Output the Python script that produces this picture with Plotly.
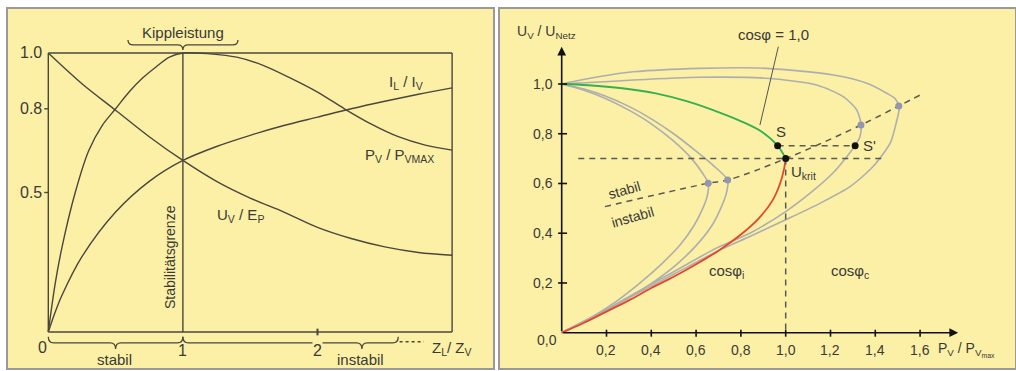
import plotly.graph_objects as go

# ---------------- left panel data (Z_L / Z_V on x) ----------------
zl_u = [0, 0.25, 0.5, 0.75, 1.0, 1.25, 1.5, 1.75, 2.0, 2.25, 2.5, 2.75, 3.0]
uv_ep = [1.0, 0.89, 0.795, 0.70, 0.615, 0.54, 0.48, 0.43, 0.375, 0.335, 0.305, 0.285, 0.275]

zl_i = [0, 0.05, 0.1, 0.25, 0.5, 0.75, 1.0, 1.25, 1.5, 1.75, 2.0, 2.25, 2.5, 2.75, 3.0]
il_iv = [0, 0.07, 0.13, 0.27, 0.43, 0.54, 0.615, 0.665, 0.705, 0.74, 0.77, 0.80, 0.827, 0.852, 0.875]

zl_p = [0, 0.05, 0.1, 0.2, 0.3, 0.4, 0.5, 0.6, 0.7, 0.8, 0.9, 1.0, 1.2, 1.4, 1.6, 1.8, 2.0, 2.2, 2.4, 2.6, 2.8, 3.0]
pv_pmax = [0, 0.17, 0.3, 0.5, 0.65, 0.74, 0.80, 0.86, 0.91, 0.95, 0.985, 1.0, 0.997, 0.985, 0.955, 0.91, 0.86, 0.80, 0.745, 0.70, 0.67, 0.652]

left_yticks = [1.0, 0.8, 0.5]
left_ytick_labels = ["1.0", "0.8", "0.5"]
left_xticks = [0, 1, 2]
left_xtick_labels = ["0", "1", "2"]

# ---------------- right panel data (P_V / P_Vmax on x) ----------------
ind1_p = [0, 0.1, 0.2, 0.3, 0.4, 0.5, 0.58, 0.63, 0.655, 0.65, 0.63, 0.59, 0.53, 0.45, 0.35, 0.25, 0.13, 0]
ind1_u = [1.0, 0.975, 0.94, 0.895, 0.84, 0.77, 0.70, 0.64, 0.60, 0.55, 0.50, 0.43, 0.355, 0.28, 0.20, 0.13, 0.06, 0]

ind2_p = [0, 0.1, 0.2, 0.3, 0.4, 0.5, 0.6, 0.68, 0.741, 0.735, 0.71, 0.67, 0.60, 0.52, 0.42, 0.30, 0.15, 0]
ind2_u = [1.0, 0.98, 0.95, 0.91, 0.86, 0.80, 0.73, 0.67, 0.614, 0.56, 0.50, 0.43, 0.35, 0.28, 0.21, 0.14, 0.065, 0]

cap1_p = [0, 0.17, 0.32, 0.617, 0.915, 1.138, 1.257, 1.317, 1.336, 1.332, 1.31, 1.272, 1.211, 1.109, 1.0, 0.84, 0.69, 0.5, 0.3, 0.15, 0]
cap1_u = [1.0, 1.008, 1.016, 1.027, 1.023, 0.996, 0.949, 0.896, 0.84, 0.79, 0.752, 0.707, 0.642, 0.561, 0.487, 0.40, 0.34, 0.245, 0.145, 0.07, 0]

cap2_p = [0, 0.17, 0.32, 0.617, 0.915, 1.213, 1.362, 1.451, 1.49, 1.507, 1.495, 1.467, 1.39, 1.287, 1.153, 1.0, 0.84, 0.706, 0.5, 0.3, 0.15, 0]
cap2_u = [1.0, 1.03, 1.049, 1.063, 1.063, 1.036, 1.003, 0.963, 0.94, 0.905, 0.85, 0.763, 0.668, 0.587, 0.52, 0.454, 0.387, 0.333, 0.235, 0.14, 0.068, 0]

green_p = [0, 0.12, 0.27, 0.42, 0.565, 0.714, 0.804, 0.893, 0.964, 1.0]
green_u = [1.0, 0.995, 0.983, 0.962, 0.929, 0.882, 0.849, 0.808, 0.752, 0.70]

red_p = [1.0, 0.993, 0.975, 0.94, 0.88, 0.8, 0.7, 0.6, 0.5, 0.4, 0.3, 0.2, 0.1, 0]
red_u = [0.70, 0.66, 0.60, 0.53, 0.46, 0.395, 0.33, 0.275, 0.225, 0.18, 0.13, 0.085, 0.04, 0]

stab_p = [0.193, 0.654, 0.741, 1.0, 1.336, 1.505, 1.607]
stab_u = [0.507, 0.601, 0.614, 0.70, 0.835, 0.912, 0.959]

nose_p = [0.654, 0.741, 1.336, 1.505]
nose_u = [0.601, 0.614, 0.835, 0.912]

pts_p = [0.964, 1.31, 1.0]
pts_u = [0.752, 0.752, 0.70]

ukrit = 0.70
right_xticks = [0.2, 0.4, 0.6, 0.8, 1.0, 1.2, 1.4, 1.6]
right_xtick_labels = ["0,2", "0,4", "0,6", "0,8", "1,0", "1,2", "1,4", "1,6"]
right_yticks = [0.2, 0.4, 0.6, 0.8, 1.0]
right_ytick_labels = ["0,2", "0,4", "0,6", "0,8", "1,0"]

# ---------------- styling ----------------
W, H = 1016, 371
BG = "#FBF0A6"
BORDER = "#9a9a9a"
INK = "#4a473c"
TXT = "#3a3a36"
GRAY = "#aeaeae"
FONT = "Liberation Sans, Arial, sans-serif"

fig = go.Figure()

# left curves
for xs, ys in [(zl_u, uv_ep), (zl_i, il_iv), (zl_p, pv_pmax)]:
    fig.add_trace(go.Scatter(x=xs, y=ys, mode="lines", line=dict(color=INK, width=1.4, shape="spline", smoothing=0.9),
                             xaxis="x", yaxis="y", hoverinfo="skip", showlegend=False))

# right curves
for xs, ys in [(ind1_p, ind1_u), (ind2_p, ind2_u), (cap1_p, cap1_u), (cap2_p, cap2_u)]:
    fig.add_trace(go.Scatter(x=xs, y=ys, mode="lines", line=dict(color=GRAY, width=1.6, shape="spline", smoothing=0.7),
                             xaxis="x2", yaxis="y2", hoverinfo="skip", showlegend=False))
fig.add_trace(go.Scatter(x=green_p, y=green_u, mode="lines", line=dict(color="#35b04e", width=1.8, shape="spline"),
                         xaxis="x2", yaxis="y2", hoverinfo="skip", showlegend=False))
fig.add_trace(go.Scatter(x=red_p, y=red_u, mode="lines", line=dict(color="#e5452e", width=1.8, shape="spline"),
                         xaxis="x2", yaxis="y2", hoverinfo="skip", showlegend=False))
DASH = "6px,5px"
fig.add_trace(go.Scatter(x=stab_p, y=stab_u, mode="lines", line=dict(color="#5a5a55", width=1.5, dash=DASH, shape="spline"),
                         xaxis="x2", yaxis="y2", hoverinfo="skip", showlegend=False))
fig.add_trace(go.Scatter(x=[0.074, 1.443], y=[ukrit, ukrit], mode="lines", line=dict(color="#5a5a55", width=1.5, dash=DASH),
                         xaxis="x2", yaxis="y2", hoverinfo="skip", showlegend=False))
fig.add_trace(go.Scatter(x=[1.0, 1.0], y=[ukrit, 0], mode="lines", line=dict(color="#5a5a55", width=1.5, dash=DASH),
                         xaxis="x2", yaxis="y2", hoverinfo="skip", showlegend=False))
fig.add_trace(go.Scatter(x=[pts_p[0], pts_p[1]], y=[pts_u[0], pts_u[1]], mode="lines", line=dict(color="#5a5a55", width=1.5, dash=DASH),
                         xaxis="x2", yaxis="y2", hoverinfo="skip", showlegend=False))
# leader line for cos phi = 1,0
fig.add_trace(go.Scatter(x=[0.967, 0.885], y=[1.15, 0.835], mode="lines", line=dict(color="#555550", width=1),
                         xaxis="x2", yaxis="y2", hoverinfo="skip", showlegend=False))
fig.add_trace(go.Scatter(x=nose_p, y=nose_u, mode="markers", marker=dict(color="#9297ad", size=7),
                         xaxis="x2", yaxis="y2", hoverinfo="skip", showlegend=False))
fig.add_trace(go.Scatter(x=pts_p, y=pts_u, mode="markers", marker=dict(color="#111111", size=7),
                         xaxis="x2", yaxis="y2", hoverinfo="skip", showlegend=False))

shapes = []
# panels
shapes.append(dict(type="rect", xref="paper", yref="paper", x0=7 / W, x1=494 / W, y0=1 - 369 / H, y1=1 - 8 / H,
                   fillcolor=BG, line=dict(color=BORDER, width=2), layer="below"))
shapes.append(dict(type="rect", xref="paper", yref="paper", x0=499 / W, x1=1016 / W, y0=1 - 369 / H, y1=1 - 8 / H,
                   fillcolor=BG, line=dict(color=BORDER, width=2), layer="below"))


def lline(x0, y0, x1, y1, xr="x", yr="y", color=INK, width=1.4, dash=None):
    d = dict(color=color, width=width)
    if dash:
        d["dash"] = dash
    shapes.append(dict(type="line", xref=xr, yref=yr, x0=x0, y0=y0, x1=x1, y1=y1, line=d))


# left frame
lline(0, 0, 3, 0)
lline(0, 1, 3, 1)
lline(0, 0, 0, 1)
lline(3, 0, 3, 1)
lline(1, 0, 1, 1)
for t in left_yticks[1:]:
    lline(-0.03, t, 0, t)
lline(2, -0.012, 2, 0.012, width=2)


def brace(x0, x1, xt, yb, h, hx, up_ends):
    s = 1 if up_ends else -1
    ye = yb + s * h
    yt = yb - s * h
    return (f"M {x0},{ye} Q {x0},{yb} {x0 + hx},{yb} L {xt - hx},{yb} Q {xt},{yb} {xt},{yt} "
            f"Q {xt},{yb} {xt + hx},{yb} L {x1 - hx},{yb} Q {x1},{yb} {x1},{ye}")


for path in [brace(0.592, 1.409, 1.0, 1.029, 0.018, 0.04, True),
             brace(0.0, 1.0, 0.5, -0.039, 0.022, 0.04, True),
             brace(1.0, 2.6, 2.33, -0.039, 0.022, 0.04, True)]:
    shapes.append(dict(type="path", xref="x", yref="y", path=path, line=dict(color=INK, width=1.3)))
lline(2.61, -0.035, 2.79, -0.035, width=1.3, dash="3px,3px")

# right ticks
for t in right_xticks:
    lline(t, -0.016, t, 0.012, xr="x2", yr="y2", color="#111", width=1.6)
for t in right_yticks:
    lline(-0.016, t, 0.024, t, xr="x2", yr="y2", color="#111", width=1.6)

anns = []


def txt(x, y, s, xr="x", yr="y", size=15, xa="center", ya="middle", angle=0, bg=None, color=TXT):
    a = dict(x=x, y=y, xref=xr, yref=yr, text=s, showarrow=False, xanchor=xa, yanchor=ya,
             font=dict(family=FONT, size=size, color=color), textangle=angle)
    if bg:
        a["bgcolor"] = bg
        a["borderpad"] = 0
    anns.append(a)


for t, lab in zip(left_yticks, left_ytick_labels):
    txt(-0.035, t, lab, xa="right", size=16)
txt(-0.04, -0.054, left_xtick_labels[0], size=16)
txt(1.0, -0.068, left_xtick_labels[1], size=16)
txt(2.0, -0.066, left_xtick_labels[2], size=16, bg=BG)
txt(0.495, -0.1, "stabil", size=15)
txt(2.32, -0.1, "instabil", size=15)
txt(3.0, -0.058, "Z<sub>L</sub>/ Z<sub>V</sub>", size=15)
txt(1.0, 1.072, "Kippleistung", size=15)
txt(0.905, 0.269, "Stabilitätsgrenze", size=14, angle=-90)
txt(2.66, 0.896, "I<sub>L</sub> / I<sub>V</sub>", size=15)
txt(2.61, 0.634, "P<sub>V</sub> / P<sub>VMAX</sub>", size=15)
txt(1.425, 0.419, "U<sub>V</sub> / E<sub>P</sub>", size=15)

# right labels
for t, lab in zip(right_xticks, right_xtick_labels):
    txt(t, -0.07, lab, xr="x2", yr="y2", size=14)
for t, lab in zip(right_yticks, right_ytick_labels):
    txt(-0.028, t, lab, xr="x2", yr="y2", size=14, xa="right")
txt(-0.01, -0.03, "0,0", xr="x2", yr="y2", size=14, xa="right")
txt(1.672, -0.068, "P<sub>V</sub> / P<sub>V<sub>max</sub></sub>", xr="x2", yr="y2", size=14, xa="left")
txt(-0.066, 1.21, "U<sub>V</sub> / U<sub>Netz</sub>", xr="x2", yr="y2", size=14)
txt(0.944, 1.198, "cosφ = 1,0", xr="x2", yr="y2", size=15)
txt(0.98, 0.808, "S", xr="x2", yr="y2", size=15)
txt(1.338, 0.752, "S'", xr="x2", yr="y2", size=15, xa="left")
txt(1.013, 0.645, "U<sub>krit</sub>", xr="x2", yr="y2", size=15, xa="left")
txt(0.28, 0.574, "stabil", xr="x2", yr="y2", size=14, angle=-16)
txt(0.317, 0.464, "instabil", xr="x2", yr="y2", size=14, angle=-16)
txt(0.737, 0.248, "cosφ<sub>i</sub>", xr="x2", yr="y2", size=15)
txt(1.287, 0.248, "cosφ<sub>c</sub>", xr="x2", yr="y2", size=15)

# right axes with arrows
anns.append(dict(x=0, y=1.15, ax=0, ay=0, xref="x2", yref="y2", axref="x2", ayref="y2", text="",
                 showarrow=True, arrowhead=2, arrowsize=1.1, arrowwidth=1.6, arrowcolor="#111"))
anns.append(dict(x=1.77, y=0, ax=0, ay=0, xref="x2", yref="y2", axref="x2", ayref="y2", text="",
                 showarrow=True, arrowhead=2, arrowsize=1.1, arrowwidth=1.6, arrowcolor="#111"))

ax_common = dict(visible=False, fixedrange=True)
fig.update_layout(
    width=W, height=H, margin=dict(l=0, r=0, t=0, b=0),
    paper_bgcolor="white", plot_bgcolor="rgba(0,0,0,0)", showlegend=False,
    xaxis=dict(domain=[8 / W, 493 / W], range=[-0.2994, 3.3039], anchor="y", **ax_common),
    yaxis=dict(domain=[1 - 368 / H, 1 - 9 / H], range=[-0.129, 1.1577], anchor="x", **ax_common),
    xaxis2=dict(domain=[500 / W, 1015 / W], range=[-0.2754, 2.0237], anchor="y2", **ax_common),
    yaxis2=dict(domain=[1 - 368 / H, 1 - 9 / H], range=[-0.1419, 1.3016], anchor="x2", **ax_common),
    shapes=shapes, annotations=anns,
)

fig.write_html("out.html")
